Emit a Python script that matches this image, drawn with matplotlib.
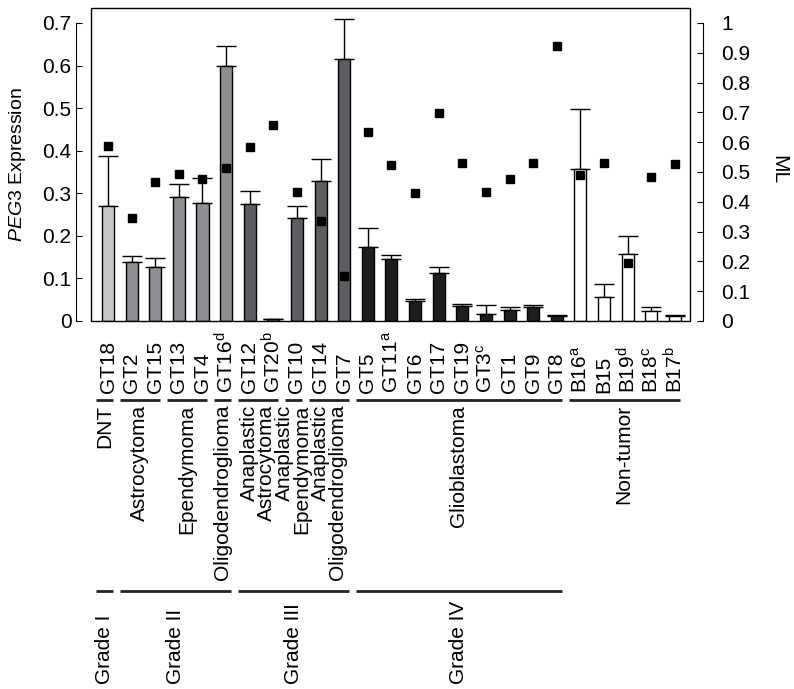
import numpy as np
import matplotlib
matplotlib.use('Agg')
import matplotlib.pyplot as plt
from matplotlib.patches import Rectangle
from matplotlib.transforms import blended_transform_factory

plt.rcParams['font.family'] = 'Liberation Sans'
plt.rcParams['mathtext.fontset'] = 'custom'
plt.rcParams['mathtext.rm'] = 'Liberation Sans'
plt.rcParams['mathtext.it'] = 'Liberation Sans:italic'

# sample names (superscripts as in the figure)
samples = ['GT18', 'GT2', 'GT15', 'GT13', 'GT4', 'GT16$^\\mathrm{d}$',
           'GT12', 'GT20$^\\mathrm{b}$', 'GT10', 'GT14', 'GT7',
           'GT5', 'GT11$^\\mathrm{a}$', 'GT6', 'GT17', 'GT19', 'GT3$^\\mathrm{c}$',
           'GT1', 'GT9', 'GT8',
           'B16$^\\mathrm{a}$', 'B15', 'B19$^\\mathrm{d}$', 'B18$^\\mathrm{c}$', 'B17$^\\mathrm{b}$']
grade = ['I', 'II', 'II', 'II', 'II', 'II', 'III', 'III', 'III', 'III', 'III',
         'IV', 'IV', 'IV', 'IV', 'IV', 'IV', 'IV', 'IV', 'IV',
         'N', 'N', 'N', 'N', 'N']
expression = [0.271, 0.139, 0.128, 0.291, 0.277, 0.600, 0.275, 0.005, 0.243, 0.329, 0.616,
              0.174, 0.146, 0.047, 0.113, 0.036, 0.016, 0.027, 0.034, 0.011,
              0.356, 0.056, 0.157, 0.023, 0.011]
expression_err = [0.117, 0.014, 0.021, 0.031, 0.059, 0.046, 0.030, 0.0, 0.028, 0.052, 0.094,
                  0.044, 0.008, 0.005, 0.015, 0.005, 0.021, 0.007, 0.004, 0.002,
                  0.142, 0.031, 0.043, 0.011, 0.002]
ml = [0.586, 0.344, 0.466, 0.493, 0.477, 0.513, 0.585, 0.657, 0.434, 0.334, 0.150,
      0.635, 0.522, 0.428, 0.697, 0.530, 0.434, 0.476, 0.530, 0.922,
      0.489, 0.529, 0.194, 0.484, 0.526]

# tumour types and grades: (label, first sample, last sample)
types = [('DNT', 0, 0), ('Astrocytoma', 1, 2), ('Ependymoma', 3, 4),
         ('Oligodendroglioma', 5, 5), ('Anaplastic\nAstrocytoma', 6, 7),
         ('Anaplastic\nEpendymoma', 8, 8), ('Anaplastic\nOligodendroglioma', 9, 10),
         ('Glioblastoma', 11, 19), ('Non-tumor', 20, 24)]
grades = [('Grade I', 0, 0), ('Grade II', 1, 5), ('Grade III', 6, 10), ('Grade IV', 11, 19)]

grade_colors = {'I': '#c7c8ca', 'II': '#8e8f92', 'III': '#5c5d60', 'IV': '#201d1e', 'N': 'white'}

W, H = 794, 689
fig = plt.figure(figsize=(W / 100, H / 100), dpi=100)
ax = fig.add_axes([91 / W, 1 - 321 / H, 599 / W, 313 / H])

x = np.arange(len(samples))
ax.bar(x, expression, width=0.51, color=[grade_colors[g] for g in grade],
       edgecolor='black', linewidth=1, zorder=2)
ax.errorbar(x, expression, yerr=[np.zeros(len(x)), expression_err], fmt='none',
            ecolor='black', elinewidth=1, capsize=7, capthick=1, zorder=1)
ax.set_xlim(-0.72, 24.64)
ax.set_ylim(0, 0.7352)

# frame around the plotting area
ax.add_patch(Rectangle((0, 0), 1, 1, transform=ax.transAxes, fill=False,
                       edgecolor='black', linewidth=1, clip_on=False, zorder=3))
for side in ['top', 'right', 'bottom']:
    ax.spines[side].set_visible(False)
ax.spines['left'].set_position(('outward', 11))
ax.spines['left'].set_bounds(0, 0.7)
ax.set_yticks(np.arange(0, 0.71, 0.1))
ax.set_yticklabels(['0'] + ['%.1f' % v for v in np.arange(0.1, 0.71, 0.1)])
ax.tick_params(axis='y', direction='in', length=4, pad=3, labelsize=15)
ax.set_xticks([])

ax2 = ax.twinx()
ax2.plot(x, ml, 'ks', markersize=6)
ax2.set_ylim(0, 1.050)
for side in ['top', 'left', 'bottom']:
    ax2.spines[side].set_visible(False)
ax2.spines['right'].set_position(('outward', 9.5))
ax2.spines['right'].set_bounds(0, 1)
ax2.set_yticks(np.arange(0, 1.01, 0.1))
ax2.set_yticklabels(['0'] + ['%.1f' % v for v in np.arange(0.1, 0.91, 0.1)] + ['1'])
ax2.tick_params(axis='y', direction='in', length=4, pad=13, labelsize=15)

fig.text(18 / W, 1 - 165 / H, '$\\mathit{PEG3}$ Expression', rotation=90,
         ha='center', va='center', fontsize=14)
fig.text(779 / W, 1 - 170 / H, 'ML', rotation=270, ha='center', va='center', fontsize=15)

# sample names, then group lines and labels underneath
tr = blended_transform_factory(ax.transData, fig.transFigure)
for xi, name in zip(x, samples):
    ax.text(xi, 1 - 393 / H, name, rotation=90, ha='center', va='bottom',
            fontsize=15, transform=tr)
for label, a, b in types:
    ax.plot([a - 0.5, b + 0.2], [1 - 400 / H] * 2, color='#222222', lw=2,
            transform=tr, clip_on=False, solid_capstyle='butt')
    ax.text((a + b) / 2 - 0.15, 1 - 405 / H, label, rotation=90, ha='center', va='top',
            multialignment='right', fontsize=15, linespacing=0.9, transform=tr)
for label, a, b in grades:
    ax.plot([a - 0.5, b + 0.2], [1 - 591 / H] * 2, color='#222222', lw=2,
            transform=tr, clip_on=False, solid_capstyle='butt')
    ax.text((a + b) / 2 - 0.15, 1 - 684 / H, label, rotation=90, ha='center', va='bottom',
            fontsize=15, transform=tr)

fig.savefig('out.png', dpi=100)
